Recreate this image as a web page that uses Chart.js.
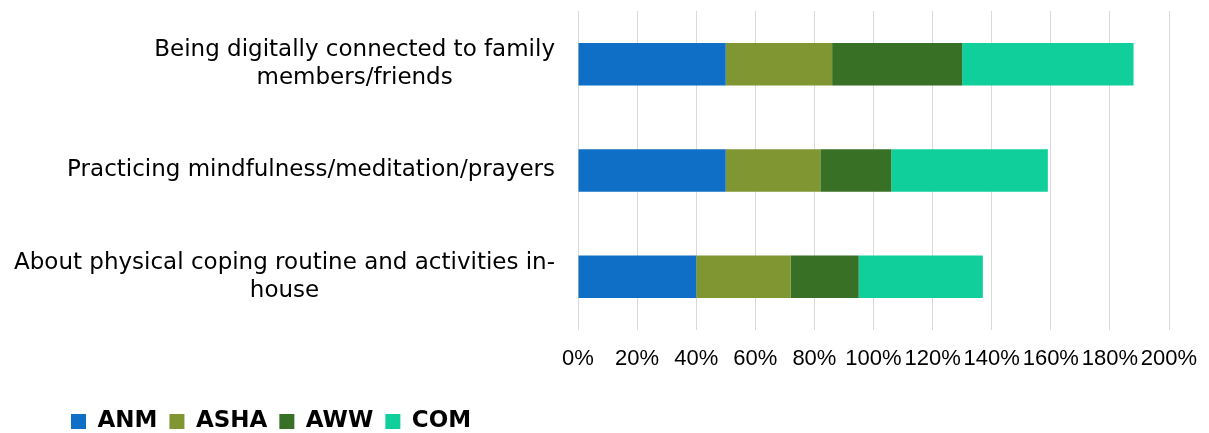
<!DOCTYPE html>
<html>
<head>
<meta charset="utf-8">
<script src="https://cdn.jsdelivr.net/npm/chart.js@4"></script>
<style>
  html, body { margin: 0; padding: 0; background: #fff; }
  #wrap { width: 1209px; height: 433px; }
</style>
</head>
<body>
<div id="wrap"><canvas id="copingChart"></canvas></div>
<script>
// category labels, one array of lines per bar
const categories = [
    ['Being digitally connected to family', 'members/friends'],
    ['Practicing mindfulness/meditation/prayers'],
    ['About physical coping routine and activities in-', 'house']
];

const anmValues = [50, 50, 40];
const ashaValues = [36, 32, 32];
const awwValues = [44, 24, 23];
const comValues = [58, 53, 42];

const xTicks = [0, 20, 40, 60, 80, 100, 120, 140, 160, 180, 200];

const labelFont = '23px "DejaVu Sans"';
const labelLineHeight = 28;

// draws the category labels right-aligned, with wrapped lines centred on each other
const categoryLabels = {
    id: 'categoryLabels',
    afterDraw(chart) {
        const ctx = chart.ctx;
        const y = chart.scales.y;
        ctx.save();
        ctx.font = labelFont;
        ctx.fillStyle = '#000';
        ctx.textAlign = 'center';
        ctx.textBaseline = 'middle';
        categories.forEach((lines, i) => {
            const yc = y.getPixelForTick(i);
            const widest = Math.max(...lines.map(l => ctx.measureText(l).width));
            const xc = chart.chartArea.left - 23 - widest / 2;
            lines.forEach((line, j) => {
                ctx.fillText(line, xc, yc + (j - (lines.length - 1) / 2) * labelLineHeight);
            });
        });
        ctx.restore();
    }
};

const ctx = document.getElementById('copingChart').getContext('2d');
new Chart(ctx, {
    type: 'bar',
    data: {
        labels: categories,
        datasets: [
            { label: 'ANM', data: anmValues, backgroundColor: '#0F6FC6' },
            { label: 'ASHA', data: ashaValues, backgroundColor: '#7F9633' },
            { label: 'AWW', data: awwValues, backgroundColor: '#387025' },
            { label: 'COM', data: comValues, backgroundColor: '#10CF9B' }
        ]
    },
    options: {
        indexAxis: 'y',
        responsive: true,
        maintainAspectRatio: false,
        animation: false,
        datasets: {
            bar: { barPercentage: 0.4, categoryPercentage: 1 }
        },
        layout: {
            padding: { left: 59, right: 40, top: 11, bottom: -10 }
        },
        scales: {
            x: {
                stacked: true,
                min: 0,
                max: 200,
                afterBuildTicks: scale => {
                    scale.ticks = xTicks.map(v => ({ value: v }));
                },
                afterFit: scale => {
                    scale.height = 68;
                    scale.paddingLeft = 0;
                    scale.paddingRight = 0;
                },
                grid: { color: '#d9d9d9', lineWidth: 1, drawTicks: false },
                border: { display: false },
                ticks: {
                    autoSkip: false,
                    maxRotation: 0,
                    padding: 16,
                    color: '#000',
                    font: { family: '"Liberation Sans", Arial', size: 22 },
                    callback: v => v + '%'
                }
            },
            y: {
                stacked: true,
                afterFit: scale => {
                    scale.width = 519;
                },
                grid: { display: false },
                border: { display: false },
                ticks: { display: false }
            }
        },
        plugins: {
            legend: {
                position: 'bottom',
                align: 'start',
                labels: {
                    boxWidth: 15,
                    boxHeight: 15,
                    padding: 12,
                    color: '#000',
                    font: { family: '"DejaVu Sans"', size: 23, weight: 'bold' }
                }
            },
            tooltip: { enabled: false }
        }
    },
    plugins: [categoryLabels]
});
</script>
</body>
</html>
